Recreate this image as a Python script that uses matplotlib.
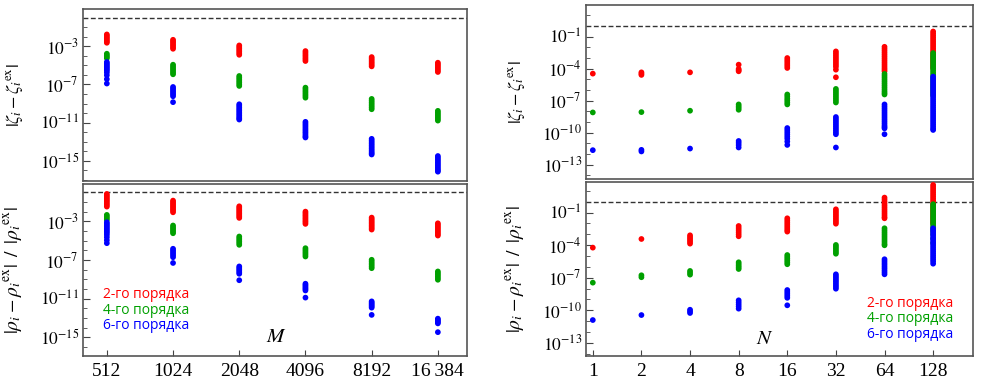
import numpy as np
import matplotlib
matplotlib.use('Agg')
import matplotlib.pyplot as plt
from matplotlib.ticker import FixedLocator, NullLocator, NullFormatter

plt.rcParams.update({
    'font.family': 'Liberation Serif',
    'mathtext.fontset': 'stix',
    'axes.edgecolor': '#555555',
    'axes.linewidth': 1.2,
})

#%% data: log10 of the errors, one list per grid size
M_vals = [512, 1024, 2048, 4096, 8192, 16384]
M_labels = ['512', '1024', '2048', '4096', '8192', '16\u2009384']
N_vals = [1, 2, 4, 8, 16, 32, 64, 128]
N_labels = ['1', '2', '4', '8', '16', '32', '64', '128']

# |zeta_i - zeta_i^ex| versus M
zeta_M_2 = [[-1.76, -1.9, -2.05, -2.2, -2.35, -2.5, -2.63],
            [-2.32, -2.47, -2.62, -2.78, -2.94, -3.1, -3.26],
            [-2.91, -3.07, -3.23, -3.4, -3.56, -3.73, -3.89],
            [-3.5, -3.67, -3.85, -4.02, -4.2, -4.37, -4.54],
            [-4.13, -4.29, -4.45, -4.62, -4.78, -4.94, -5.1],
            [-4.72, -4.88, -5.04, -5.2, -5.37, -5.53, -5.69]]
zeta_M_4 = [[-3.78, -3.95, -4.1, -4.25],
            [-4.93, -5.1, -5.27, -5.43, -5.6, -5.77, -5.93],
            [-6.11, -6.28, -6.45, -6.63, -6.8, -6.98, -7.15],
            [-7.33, -7.5, -7.68, -7.85, -8.03, -8.2, -8.38],
            [-8.51, -8.69, -8.87, -9.05, -9.23, -9.41, -9.59],
            [-9.76, -9.93, -10.1, -10.27, -10.44, -10.61, -10.78]]
zeta_M_6 = [[-4.65, -4.8, -4.95, -5.1, -5.25, -5.4, -5.55, -5.75, -6.03, -6.44, -6.9],
            [-7.26, -7.42, -7.58, -7.74, -7.9, -8.06, -8.23, -8.85],
            [-9.07, -9.23, -9.4, -9.57, -9.73, -9.9, -10.07, -10.23, -10.4, -10.55, -10.67],
            [-10.91, -11.08, -11.25, -11.42, -11.6, -11.77, -11.94, -12.1, -12.28, -12.45, -12.55],
            [-12.69, -12.86, -13.03, -13.2, -13.37, -13.54, -13.71, -13.88, -14.05, -14.2, -14.33],
            [-14.49, -14.66, -14.83, -15.0, -15.17, -15.34, -15.51, -15.68, -15.85, -16.0, -16.13]]

# |rho_i - rho_i^ex| / |rho_i^ex| versus M
rho_M_2 = [[-0.16, -0.32, -0.48, -0.65, -0.81, -0.97, -1.14, -1.3, -1.47],
           [-0.85, -1.0, -1.15, -1.3, -1.45, -1.6, -1.75, -1.9, -2.06],
           [-1.44, -1.59, -1.74, -1.89, -2.04, -2.19, -2.34, -2.49, -2.64],
           [-1.99, -2.15, -2.31, -2.47, -2.63, -2.79, -2.95, -3.1, -3.26],
           [-2.61, -2.77, -2.92, -3.08, -3.23, -3.39, -3.54, -3.7, -3.85],
           [-3.2, -3.36, -3.52, -3.68, -3.84, -4.0, -4.16, -4.32, -4.47]]
rho_M_4 = [[-2.33, -2.5, -2.67, -2.85],
           [-3.43, -3.6, -3.76, -3.92, -4.08, -4.23],
           [-4.57, -4.74, -4.91, -5.08, -5.25, -5.43],
           [-5.78, -5.95, -6.12, -6.29, -6.46, -6.64],
           [-6.98, -7.15, -7.33, -7.5, -7.68, -7.85],
           [-8.19, -8.36, -8.53, -8.7, -8.88, -9.05]]
rho_M_6 = [[-3.09, -3.25, -3.4, -3.56, -3.72, -3.88, -4.04, -4.2, -4.4, -4.65, -4.95, -5.26],
           [-5.84, -6.01, -6.18, -6.35, -6.52, -6.71, -7.31],
           [-7.67, -7.82, -7.97, -8.12, -8.28, -8.43, -9.1],
           [-9.46, -9.6, -9.74, -9.88, -10.02, -10.16, -10.9],
           [-11.29, -11.42, -11.55, -11.68, -11.81, -11.94, -12.69],
           [-13.08, -13.2, -13.33, -13.45, -13.57, -14.48]]

# |zeta_i - zeta_i^ex| versus N
zeta_N_2 = [[-4.47],
            [-4.35, -4.47, -4.59],
            [-4.35],
            [-3.63, -4.03, -4.15, -4.25],
            [-3.01, -3.2, -3.38, -3.57, -3.75, -3.94],
            [-2.39, -2.57, -2.75, -2.93, -3.11, -3.29, -3.47, -3.65, -3.83, -4.1, -4.81],
            [-1.96, -2.14, -2.32, -2.5, -2.68, -2.86, -3.04, -3.22, -3.4, -3.58, -3.76, -3.94, -4.1, -4.26],
            [-0.53, -0.71, -0.89, -1.07, -1.25, -1.43, -1.61, -1.79, -1.97, -2.15, -2.33, -2.51, -2.69,
             -2.87, -3.05, -3.23, -3.41, -3.59, -3.77, -3.95]]
zeta_N_4 = [[-8.1],
            [-8.07],
            [-7.94],
            [-7.35, -7.52, -7.68, -7.85],
            [-6.42, -6.6, -6.8, -6.98, -7.17, -7.35],
            [-5.9, -6.08, -6.26, -6.44, -6.62, -6.8, -6.98, -7.17],
            [-4.5, -4.68, -4.86, -5.04, -5.22, -5.4, -5.58, -5.76, -5.94, -6.12, -6.28, -6.42],
            [-2.55, -2.73, -2.91, -3.09, -3.27, -3.45, -3.63, -3.81, -3.99, -4.17, -4.35, -4.53, -4.71,
             -4.89, -5.07, -5.25, -5.43, -5.61, -5.79, -5.97, -6.15, -6.33, -6.5]]
zeta_N_6 = [[-11.63],
            [-11.6, -11.75],
            [-11.48],
            [-10.77, -10.95, -11.15, -11.38],
            [-9.56, -9.75, -9.95, -10.15, -10.35, -10.55, -10.82, -11.14],
            [-8.53, -8.71, -8.89, -9.07, -9.25, -9.43, -9.61, -9.79, -9.97, -10.14, -11.38],
            [-7.35, -7.53, -7.71, -7.89, -8.07, -8.25, -8.43, -8.61, -8.79, -8.97, -9.15, -9.33, -9.47,
             -9.59, -10.14],
            [-4.75, -4.93, -5.11, -5.29, -5.47, -5.65, -5.83, -6.01, -6.19, -6.37, -6.55, -6.73, -6.91,
             -7.09, -7.27, -7.45, -7.63, -7.81, -7.99, -8.17, -8.35, -8.53, -8.71, -8.89, -9.07, -9.25,
             -9.43, -9.61, -9.74]]

# |rho_i - rho_i^ex| / |rho_i^ex| versus N
rho_N_2 = [[-4.23],
           [-3.43],
           [-3.09, -3.25, -3.4, -3.55, -3.7, -3.86],
           [-2.23, -2.42, -2.61, -2.8, -2.99, -3.18],
           [-1.52, -1.7, -1.88, -2.06, -2.24, -2.42, -2.6, -2.75],
           [-0.69, -0.86, -1.02, -1.19, -1.35, -1.52, -1.69, -1.85, -2.02],
           [0.39, 0.22, 0.04, -0.14, -0.32, -0.5, -0.68, -0.86, -1.04, -1.22, -1.4, -1.52],
           [1.56, 1.38, 1.2, 1.02, 0.84, 0.66, 0.48, 0.3, 0.12, -0.06, -0.24, -0.42, -0.6, -0.78,
            -0.96, -1.14, -1.32, -1.5, -1.68, -1.86, -2.0]]
rho_N_4 = [[-7.46],
           [-6.78, -6.96],
           [-6.38, -6.55, -6.72],
           [-5.58, -5.74, -5.9, -6.05, -6.2],
           [-4.91, -5.08, -5.25, -5.42, -5.59, -5.76],
           [-3.98, -4.14, -4.3, -4.47, -4.63, -4.79],
           [-2.44, -2.62, -2.8, -2.98, -3.16, -3.34, -3.52, -3.7, -3.88, -4.01],
           [-0.22, -0.4, -0.58, -0.76, -0.94, -1.12, -1.3, -1.48, -1.66, -1.84, -2.02, -2.2, -2.38,
            -2.56, -2.74, -3.0, -3.4, -3.8]]
rho_N_6 = [[-10.91],
           [-10.45],
           [-9.96, -10.11, -10.26],
           [-9.09, -9.28, -9.47, -9.66, -9.86],
           [-8.14, -8.32, -8.5, -8.68, -8.86, -9.55],
           [-6.69, -6.86, -7.02, -7.19, -7.35, -7.52, -7.69, -7.85, -8.02],
           [-5.3, -5.47, -5.65, -5.82, -6.0, -6.17, -6.35, -6.52, -6.69],
           [-2.44, -2.62, -2.8, -2.98, -3.16, -3.34, -3.52, -3.7, -3.88, -4.06, -4.24, -4.42, -4.6,
            -4.78, -4.96, -5.14, -5.32, -5.5, -5.71]]

order_labels = ['2-го порядка', '4-го порядка', '6-го порядка']
order_colors = ['#ff0000', '#00a000', '#0000ff']

zeta_label = r'$|\zeta_i - {\zeta_i}^{\mathrm{ex}}|$'
rho_label = r'$|\rho_i - {\rho_i}^{\mathrm{ex}}|\;\;/\;\;|{\rho_i}^{\mathrm{ex}}|$'


def draw_series(ax, xs, series):
    for data, col in zip(series, order_colors):
        for xv, logs in zip(xs, data):
            ax.scatter(np.full(len(logs), xv), 10.0 ** np.array(logs), s=17,
                       color=col, edgecolors='none', zorder=3)


def style_axis(ax, xs, xlabels, xlim, ylim, major, minor, ylabel, ysize, show_x):
    ax.set_xscale('log', base=2)
    ax.set_yscale('log')
    ax.set_xlim(2.0 ** xlim[0], 2.0 ** xlim[1])
    ax.set_ylim(10.0 ** ylim[0], 10.0 ** ylim[1])
    ax.axhline(1.0, color='#333333', lw=1.0, dashes=(3.5, 1.8), zorder=2)
    ax.yaxis.set_major_locator(FixedLocator([10.0 ** e for e in major]))
    ax.set_yticklabels([r'$10^{%d}$' % e for e in major])
    ax.yaxis.set_minor_locator(FixedLocator([10.0 ** e for e in minor]))
    ax.yaxis.set_minor_formatter(NullFormatter())
    ax.xaxis.set_minor_locator(NullLocator())
    if show_x:
        ax.set_xticks(xs)
        ax.set_xticklabels(xlabels, fontsize=14)
    else:
        ax.set_xticks([])
    ax.tick_params(axis='both', which='both', direction='in', color='#444444',
                   top=False, right=False)
    ax.tick_params(axis='y', which='major', length=5, labelsize=12.5, pad=3)
    ax.tick_params(axis='y', which='minor', length=3)
    ax.tick_params(axis='x', which='major', length=4, pad=5)
    ax.set_ylabel(ylabel, fontsize=ysize)
    ax.yaxis.set_label_coords(-0.152, 0.5)


fig = plt.figure(figsize=(10, 3.85), dpi=100)
ax1 = fig.add_axes([0.083, 0.530, 0.384, 0.447])
ax2 = fig.add_axes([0.083, 0.0753, 0.384, 0.447])
ax3 = fig.add_axes([0.586, 0.535, 0.387, 0.452])
ax4 = fig.add_axes([0.586, 0.0753, 0.387, 0.452])

left_major = [-15, -11, -7, -3]
left_minor = list(range(-17, 2))
right_major = [-13, -10, -7, -4, -1]
right_minor = list(range(-15, 3))

draw_series(ax1, M_vals, [zeta_M_2, zeta_M_4, zeta_M_6])
style_axis(ax1, M_vals, M_labels, (8.64, 14.44), (-17.1, 0.92), left_major, left_minor,
           zeta_label, 13, False)
draw_series(ax2, M_vals, [rho_M_2, rho_M_4, rho_M_6])
style_axis(ax2, M_vals, M_labels, (8.64, 14.44), (-16.95, 0.88), left_major, left_minor,
           rho_label, 14, True)
draw_series(ax3, N_vals, [zeta_N_2, zeta_N_4, zeta_N_6])
style_axis(ax3, N_vals, N_labels, (-0.14, 7.82), (-14.33, 1.95), right_major, right_minor,
           zeta_label, 13, False)
draw_series(ax4, N_vals, [rho_N_2, rho_N_4, rho_N_6])
style_axis(ax4, N_vals, N_labels, (-0.14, 7.82), (-14.23, 1.83), right_major, right_minor,
           rho_label, 14, True)

# order labels
for lab, col, yy in zip(order_labels, order_colors, [0.36, 0.267, 0.18]):
    ax2.text(0.164, yy, lab, color=col, fontsize=10, family='Open Sans',
             ha='center', va='center', transform=ax2.transAxes)
for lab, col, yy in zip(order_labels, order_colors, [0.299, 0.213, 0.126]):
    ax4.text(0.837, yy, lab, color=col, fontsize=10, family='Open Sans',
             ha='center', va='center', transform=ax4.transAxes)

ax2.text(0.503, 0.105, r'$M$', fontsize=15, ha='center', va='center', transform=ax2.transAxes)
ax4.text(0.463, 0.092, r'$N$', fontsize=15, ha='center', va='center', transform=ax4.transAxes)

plt.savefig('out.png', dpi=100)
plt.close()
